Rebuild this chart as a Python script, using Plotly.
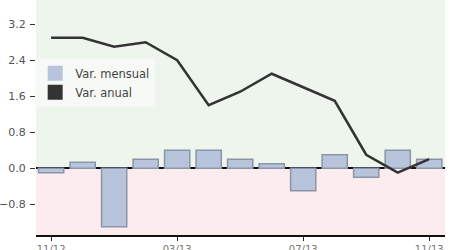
import plotly.graph_objects as go

months = ["11/12", "12/12", "01/13", "02/13", "03/13", "04/13", "05/13",
          "06/13", "07/13", "08/13", "09/13", "10/13", "11/13"]
var_mensual = [-0.1, 0.13, -1.3, 0.2, 0.4, 0.4, 0.2, 0.1, -0.5, 0.3, -0.2, 0.4, 0.2]
var_anual = [2.9, 2.9, 2.7, 2.8, 2.4, 1.4, 1.7, 2.1, 1.8, 1.5, 0.3, -0.1, 0.2]
tick_labels = ["11/12", "03/13", "07/13", "11/13"]
y_ticks = [-0.8, 0.0, 0.8, 1.6, 2.4, 3.2]

bar_fill = "#b7c4dc"
bar_line = "#8a96a8"
line_col = "#333333"

fig = go.Figure()
fig.add_trace(go.Bar(x=months, y=var_mensual, width=0.8,
                     marker=dict(color=bar_fill, line=dict(color=bar_line, width=1.5)),
                     showlegend=False))
fig.add_trace(go.Scatter(x=months, y=var_anual, mode="lines",
                         line=dict(color=line_col, width=2.5), showlegend=False))
# legend entries (square swatches)
fig.add_trace(go.Scatter(x=[None], y=[None], mode="markers", name="Var. mensual",
                         marker=dict(symbol="square", size=15, color=bar_fill)))
fig.add_trace(go.Scatter(x=[None], y=[None], mode="markers", name="Var. anual",
                         marker=dict(symbol="square", size=15, color=line_col)))

fig.add_shape(type="rect", xref="paper", yref="y", x0=0, x1=1, y0=0, y1=10,
              fillcolor="#edf5ec", line_width=0, layer="below")
fig.add_shape(type="rect", xref="paper", yref="y", x0=0, x1=1, y0=-10, y1=0,
              fillcolor="#fdeced", line_width=0, layer="below")

fig.update_layout(
    width=450, height=250,
    margin=dict(l=36, r=5, t=0, b=15, autoexpand=False),
    paper_bgcolor="white", plot_bgcolor="white",
    font=dict(family="DejaVu Sans, Verdana", size=11, color="#555555"),
    bargap=0.2,
    legend=dict(x=-0.002, y=0.75, xanchor="left", yanchor="top",
                bgcolor="rgba(246,250,246,0.9)", borderwidth=0,
                font=dict(family="DejaVu Sans, Verdana", size=11.5, color="#444444"),
                itemsizing="trace", itemwidth=30, tracegroupgap=0),
    xaxis=dict(type="category", range=[-0.48, 12.5], automargin=False,
               tickmode="array", tickvals=tick_labels, ticktext=tick_labels,
               ticks="outside", ticklen=4, tickcolor="#222", showgrid=False,
               showline=True, linecolor="#111", linewidth=1.5,
               ticklabelstandoff=0,
               tickfont=dict(size=10, color="#777")),
    yaxis=dict(range=[-1.485, 3.74], tickmode="array", tickvals=y_ticks,
               automargin=False, ticklabelstandoff=2,
               tickformat=".1f", ticks="outside", ticklen=5, tickcolor="#333",
               showgrid=False, zeroline=True, zerolinecolor="#111", zerolinewidth=1.5,
               tickfont=dict(size=11, color="#555")),
)

fig.write_html("out.html")
